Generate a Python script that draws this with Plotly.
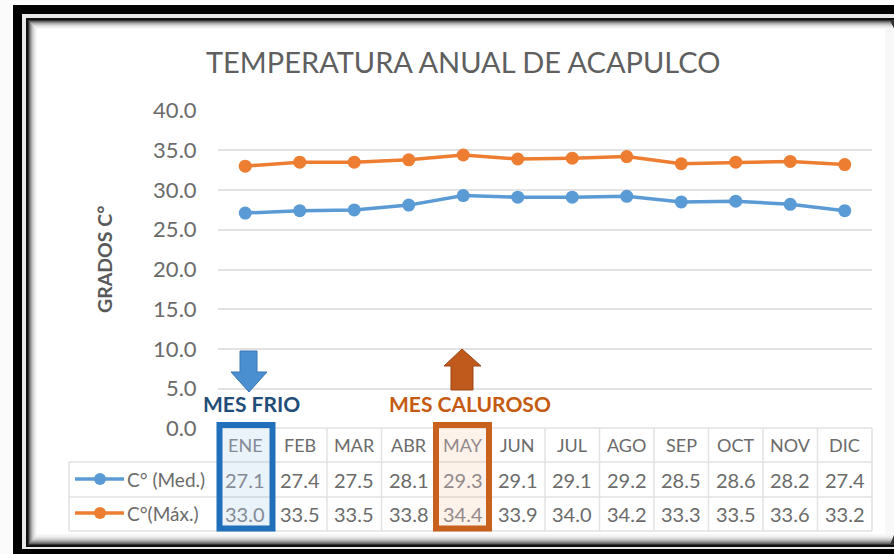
import plotly.graph_objects as go

W, H = 894, 554
MONTHS = ["ENE","FEB","MAR","ABR","MAY","JUN","JUL","AGO","SEP","OCT","NOV","DIC"]
MED = [27.1,27.4,27.5,28.1,29.3,29.1,29.1,29.2,28.5,28.6,28.2,27.4]
MAX = [33.0,33.5,33.5,33.8,34.4,33.9,34.0,34.2,33.3,33.5,33.6,33.2]
TICKS = [0,5,10,15,20,25,30,35,40]
TITLE = "TEMPERATURA ANUAL DE ACAPULCO"
YTITLE = "GRADOS C°"
NAME_MED = "C° (Med.)"
NAME_MAX = "C°(Máx.)"
BLUE = "#5B9BD5"
ORANGE = "#ED7D31"

L, R, T, B = 218, 872, 110.5, 428.5
COLW = (R - L) / 12
ROWS = [428, 462, 497, 531]
FONT = "Lato, Open Sans, sans-serif"
GRAY = "#6b6b6b"
FADED = {0: "#858b96", 4: "#94898a"}

px = lambda v: v / W
py = lambda v: 1 - v / H

fig = go.Figure()
fig.add_trace(go.Scatter(x=MONTHS, y=MED, mode="lines+markers", name=NAME_MED,
                         line=dict(color=BLUE, width=3.5), marker=dict(color=BLUE, size=13)))
fig.add_trace(go.Scatter(x=MONTHS, y=MAX, mode="lines+markers", name=NAME_MAX,
                         line=dict(color=ORANGE, width=3.5), marker=dict(color=ORANGE, size=13)))

shapes, ann = [], []

def rect(x0, y0, x1, y1, fill=None, line=None, lw=0, layer="above"):
    shapes.append(dict(type="rect", xref="paper", yref="paper", x0=px(x0), x1=px(x1), y0=py(y0), y1=py(y1),
                       fillcolor=fill or "rgba(0,0,0,0)", line=dict(color=line or "rgba(0,0,0,0)", width=lw), layer=layer))

def seg(x0, y0, x1, y1, color="#e2e2e2", w=1.5):
    shapes.append(dict(type="line", xref="paper", yref="paper", x0=px(x0), x1=px(x1), y0=py(y0), y1=py(y1),
                       line=dict(color=color, width=w), layer="below"))

def poly(points, fill, line):
    d = "M" + " L".join(f"{px(a):.5f},{py(b):.5f}" for a, b in points) + " Z"
    shapes.append(dict(type="path", xref="paper", yref="paper", path=d, fillcolor=fill, line=dict(color=line, width=1), layer="above"))

def text(x, y, s, size=17, color=GRAY, bold=False, anchor="center", angle=0):
    ann.append(dict(xref="paper", yref="paper", x=px(x), y=py(y), text=f"<b>{s}</b>" if bold else s, showarrow=False,
                    font=dict(family=FONT, size=size, color=color), xanchor=anchor, yanchor="middle",
                    textangle=angle))

# frame: layered bands from outside in
rect(0, 0, W, H, "#fbfbfb", None, 0, "below")
rect(13, 5, W + 20, H + 20, "#000000", None, 0, "below")
rect(22, 14, W + 20, 549, "#e8e8e8", None, 0, "below")
rect(26, 18, W + 20, 547, "#111111", None, 0, "below")
rect(28, 20, W + 20, 545, "#333333", None, 0, "below")
for i, c in enumerate(["#666666", "#8c8c8c", "#aaaaaa", "#c4c4c4", "#d8d8d8", "#e6e6e6", "#f0f0f0", "#f8f8f8"]):
    rect(29 + i, 21 + i, W - 0.5 * (7 - i), 544 - 1.2 * i, c, None, 0, "below")
rect(37, 29, 885, 534, "white", None, 0, "below")

# table grid
seg(L, ROWS[0], R, ROWS[0])
for r in ROWS[1:]:
    seg(69, r, R, r)
seg(69, ROWS[1], 69, ROWS[3])
for i in range(13):
    seg(L + i * COLW, ROWS[0], L + i * COLW, ROWS[3])

# table text
for i, m in enumerate(MONTHS):
    cx = L + (i + .5) * COLW
    col = FADED.get(i, GRAY)
    text(cx, 444.5, m, size=18, color=col)
    text(cx, 479.5, f"{MED[i]:.1f}", size=20, color=col)
    text(cx, 514, f"{MAX[i]:.1f}", size=20, color=col)

# legend keys
for y, c, n in [(479, BLUE, NAME_MED), (513, ORANGE, NAME_MAX)]:
    shapes.append(dict(type="line", xref="paper", yref="paper", x0=px(75), x1=px(124), y0=py(y), y1=py(y),
                       line=dict(color=c, width=3.5)))
    shapes.append(dict(type="circle", xref="paper", yref="paper", x0=px(94), x1=px(106), y0=py(y - 6), y1=py(y + 6),
                       fillcolor=c, line=dict(color=c, width=0)))
    text(125, y, n, size=19, anchor="left")

# highlights
rect(219.5, 425, 272.5, 528.5, "rgba(91,155,213,0.13)", "#1F6FBA", 6)
rect(436, 425, 489, 528.5, "rgba(237,125,49,0.10)", "#C8601E", 6)

# arrows
poly([(240,351),(257,351),(257,372),(267,372),(249,392),(231,372),(240,372)], "#4A8FD0", "#3A78B5")
poly([(451,390),(473,390),(473,366),(481,366),(462,349),(444,366),(451,366)], "#C0591C", "#9C4614")
text(251, 403, "MES FRIO", size=21, color="#1F4E79", bold=True)
text(470, 403, "MES CALUROSO", size=21, color="#C55A11", bold=True)

text(463, 61, TITLE, size=29, color="#5f5f5f")
text(104, 260, YTITLE, size=19.5, color="#595959", bold=True, angle=-90)

fig.update_layout(
    width=W, height=H, margin=dict(l=0, r=0, t=0, b=0), autosize=False,
    paper_bgcolor="white", plot_bgcolor="rgba(0,0,0,0)", showlegend=False,
    shapes=shapes, annotations=ann,
    xaxis=dict(domain=[px(L), px(R)], type="category", categoryorder="array", categoryarray=MONTHS,
               range=[-.5, 11.5], showticklabels=False, showgrid=False, zeroline=False, ticks="", automargin=False),
    yaxis=dict(domain=[py(B), py(T)], range=[0, 40], tickvals=TICKS, tickformat=".1f", automargin=False,
               tickfont=dict(family=FONT, size=22, color=GRAY), gridcolor="#e2e2e2", gridwidth=1.5,
               zeroline=False, showline=False, ticks="outside", ticklen=16, tickcolor="rgba(0,0,0,0)"),
)
fig.write_html("out.html", config=dict(displayModeBar=False),
               post_script="document.body.style.margin='0';document.documentElement.style.overflow='hidden';")
